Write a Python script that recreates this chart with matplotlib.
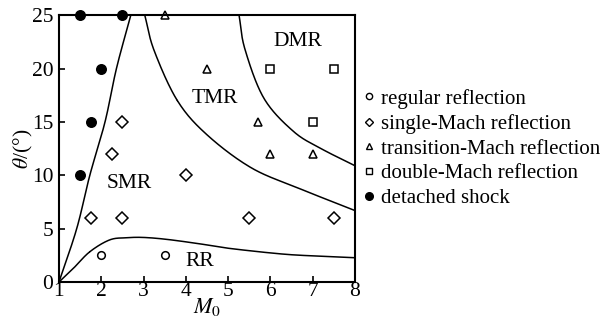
import matplotlib
matplotlib.use("Agg")
import matplotlib.pyplot as plt
from matplotlib.lines import Line2D
import numpy as np

plt.rcParams['font.family'] = ['Liberation Serif', 'DejaVu Serif']
plt.rcParams['mathtext.fontset'] = 'stix'

# boundary curves (M0, theta)
left_m = [1.0, 1.42, 1.73, 2.09, 2.36, 2.70]
left_t = [0, 5, 10, 15, 20, 25]
rr_m = [1.0, 1.34, 1.73, 2.2, 2.6, 3.0, 3.55, 4.3, 5.04, 6.3, 7.2, 8.0]
rr_t = [0, 1.28, 2.84, 3.95, 4.15, 4.18, 4.0, 3.6, 3.15, 2.62, 2.42, 2.28]
smr_m = [3.03, 3.25, 3.8, 4.5, 5.55, 6.70, 8.0]
smr_t = [25, 21.7, 17.0, 13.8, 10.7, 8.74, 6.7]
dmr_m = [5.26, 5.40, 5.85, 6.55, 7.2, 8.0]
dmr_t = [25, 21.8, 17.2, 14.1, 12.5, 10.9]

# experiment points
reg_m = [2.0, 3.5]
reg_t = [2.5, 2.5]
single_m = [1.75, 2.5, 2.25, 2.5, 4.0, 5.5, 7.5]
single_t = [6, 6, 12, 15, 10, 6, 6]
trans_m = [3.5, 4.5, 5.7, 6.0, 7.0]
trans_t = [25, 20, 15, 12, 12]
double_m = [6.0, 7.5, 7.0]
double_t = [20, 20, 15]
det_m = [1.5, 2.5, 2.0, 1.75, 1.5]
det_t = [25, 25, 20, 15, 10]

regions = ['DMR', 'TMR', 'SMR', 'RR']
region_m = [6.66, 4.69, 2.67, 4.33]
region_t = [22.5, 17.2, 9.2, 1.9]


def catmull(xs, ys, n=30):
    # smooth curve through the read-off points
    p = np.column_stack([xs, ys]).astype(float)
    p = np.vstack([2 * p[0] - p[1], p, 2 * p[-1] - p[-2]])
    out = []
    t = np.linspace(0, 1, n)[:, None]
    for i in range(1, len(p) - 2):
        p0, p1, p2, p3 = p[i - 1], p[i], p[i + 1], p[i + 2]
        seg = 0.5 * ((2 * p1) + (-p0 + p2) * t + (2 * p0 - 5 * p1 + 4 * p2 - p3) * t ** 2
                     + (-p0 + 3 * p1 - 3 * p2 + p3) * t ** 3)
        out.append(seg)
    out = np.vstack(out)
    return out[:, 0], out[:, 1]


fig = plt.figure(figsize=(6.14, 3.22), dpi=100)
ax = fig.add_axes([0.096, 0.124, 0.482, 0.829])

for xs, ys in [(left_m, left_t), (rr_m, rr_t), (smr_m, smr_t), (dmr_m, dmr_t)]:
    cx, cy = catmull(xs, ys)
    ax.plot(cx, cy, color='black', lw=1.1)

mk = dict(color='black', linestyle='none', clip_on=False, markeredgewidth=1.1)
ax.plot(reg_m, reg_t, marker='o', ms=5.5, mfc='white', **mk)
ax.plot(single_m, single_t, marker='D', ms=6, mfc='white', **mk)
ax.plot(trans_m, trans_t, marker='^', ms=6, mfc='white', **mk)
ax.plot(double_m, double_t, marker='s', ms=5.5, mfc='white', **mk)
ax.plot(det_m, det_t, marker='o', ms=6.8, mfc='black', **mk)

for name, xm, yt in zip(regions, region_m, region_t):
    ax.text(xm, yt, name, ha='center', va='center', fontsize=15.5)

ax.set_xlim(1, 8)
ax.set_ylim(0, 25)
ax.set_xticks(range(1, 9))
ax.set_yticks([0, 5, 10, 15, 20, 25])
ax.tick_params(direction='in', length=4, width=1.2, labelsize=15.5, pad=0)
ax.tick_params(axis='y', pad=4)
for sp in ax.spines.values():
    sp.set_linewidth(1.5)
ax.set_xlabel(r'$M_0$', fontsize=16, labelpad=-4)
ax.set_ylabel(r'$\theta$/(°)', fontsize=15.5, labelpad=-2)

handles = [
    Line2D([], [], marker='o', ms=4.5, mfc='white', color='black', ls='none'),
    Line2D([], [], marker='D', ms=4.5, mfc='white', color='black', ls='none'),
    Line2D([], [], marker='^', ms=4.5, mfc='white', color='black', ls='none'),
    Line2D([], [], marker='s', ms=4.5, mfc='white', color='black', ls='none'),
    Line2D([], [], marker='o', ms=5.5, mfc='black', color='black', ls='none'),
]
labels = ['regular reflection', 'single-Mach reflection', 'transition-Mach reflection',
          'double-Mach reflection', 'detached shock']
fig.legend(handles, labels, loc='upper left', bbox_to_anchor=(0.591, 0.724),
           frameon=False, fontsize=15, handlelength=0.6, handletextpad=0.26,
           labelspacing=0.25, borderaxespad=0, borderpad=0)

fig.savefig('out.png', dpi=100)
